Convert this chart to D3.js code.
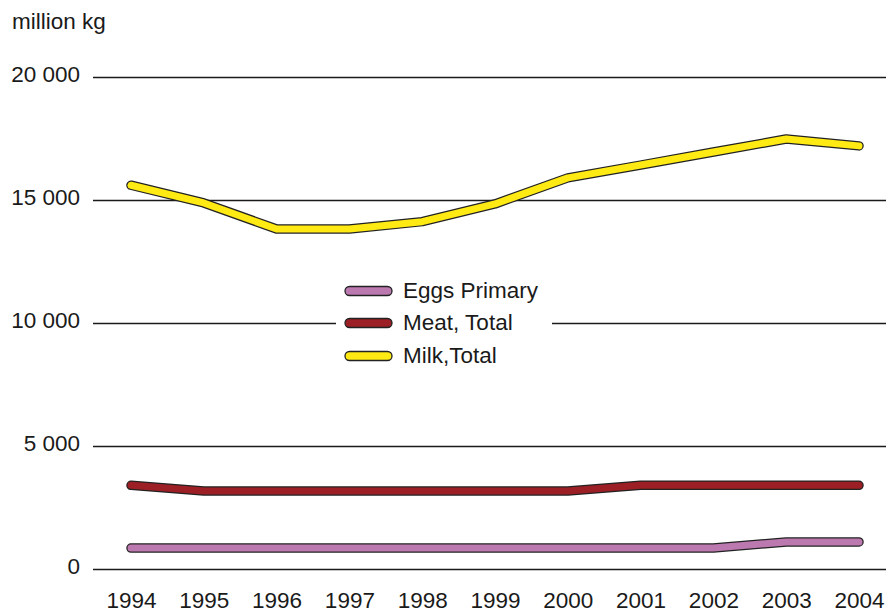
<!DOCTYPE html>
<html>
<head>
<meta charset="utf-8">
<script src="https://cdn.jsdelivr.net/npm/d3@7"></script>
<style>
  html, body { margin: 0; padding: 0; background: #fff; }
  svg { display: block; }
  text { font-family: "Liberation Sans", Arial, sans-serif; fill: #1a1a1a; }
</style>
</head>
<body>
<svg id="chart" width="886" height="614"></svg>
<script>
const years = [1994, 1995, 1996, 1997, 1998, 1999, 2000, 2001, 2002, 2003, 2004];
const eggs  = [850, 850, 850, 850, 850, 850, 850, 850, 850, 1100, 1100];
const meat  = [3400, 3170, 3170, 3170, 3170, 3170, 3170, 3400, 3400, 3400, 3400];
const milk  = [15600, 14880, 13820, 13820, 14120, 14840, 15900, 16420, 16950, 17480, 17200];
const seriesNames = ["Eggs Primary", "Meat, Total", "Milk,Total"];
const seriesColors = ["#bb79b0", "#9b1f25", "#ffea14"];
const yTicks = [0, 5000, 10000, 15000, 20000];
const yTickLabels = ["0", "5 000", "10 000", "15 000", "20 000"];
const unitLabel = "million kg";

const FS = 22.5;
const svg = d3.select("#chart");
const x = d3.scalePoint().domain(years).range([131, 859]);
const y = d3.scaleLinear().domain([0, 20000]).range([569, 77]);

// gridlines
const grid = svg.append("g");
grid.selectAll("line").data(yTicks).join("line")
  .attr("x1", 93).attr("x2", 886)
  .attr("y1", d => Math.round(y(d)) + 0.5).attr("y2", d => Math.round(y(d)) + 0.5)
  .attr("stroke", "#1a1a1a").attr("stroke-width", 1.4);

// y axis labels
svg.append("g").selectAll("text").data(yTicks).join("text")
  .attr("x", 80).attr("y", d => y(d) + 5)
  .attr("text-anchor", "end").attr("font-size", FS)
  .text((d, i) => yTickLabels[i]);

// unit label
svg.append("text").attr("x", 12).attr("y", 29).attr("font-size", FS).text(unitLabel);

// x axis via d3 axis
const xAxis = svg.append("g").attr("transform", "translate(0,569)")
  .call(d3.axisBottom(x).tickSize(0).tickPadding(0));
xAxis.select(".domain").remove();
xAxis.attr("font-family", null).attr("font-size", null);
xAxis.selectAll("text")
  .attr("font-size", FS)
  .attr("fill", "#1a1a1a").attr("dy", null).attr("y", 39);

// lines
const data = [eggs, meat, milk];
const line = d3.line().x((d, i) => x(years[i])).y(d => y(d));
const lg = svg.append("g");
data.slice().reverse().forEach((vals, ri) => {
  const i = data.length - 1 - ri;
  lg.append("path").attr("d", line(vals)).attr("fill", "none")
    .attr("stroke", "#222").attr("stroke-width", 9.5)
    .attr("stroke-linecap", "round").attr("stroke-linejoin", "round");
  lg.append("path").attr("d", line(vals)).attr("fill", "none")
    .attr("stroke", seriesColors[i]).attr("stroke-width", 7)
    .attr("stroke-linecap", "round").attr("stroke-linejoin", "round");
});

// legend
const legY = [291, 323, 356];
svg.append("rect").attr("x", 336).attr("y", 276).attr("width", 216).attr("height", 94).attr("fill", "#fff");
const leg = svg.append("g");
seriesNames.forEach((name, i) => {
  leg.append("rect").attr("x", 345).attr("y", legY[i] - 4.5)
    .attr("width", 47).attr("height", 9).attr("rx", 4.5)
    .attr("fill", seriesColors[i]).attr("stroke", "#222").attr("stroke-width", 1.3);
  leg.append("text").attr("x", 403).attr("y", legY[i] + 7)
    .attr("font-size", FS).text(name);
});
</script>
</body>
</html>
